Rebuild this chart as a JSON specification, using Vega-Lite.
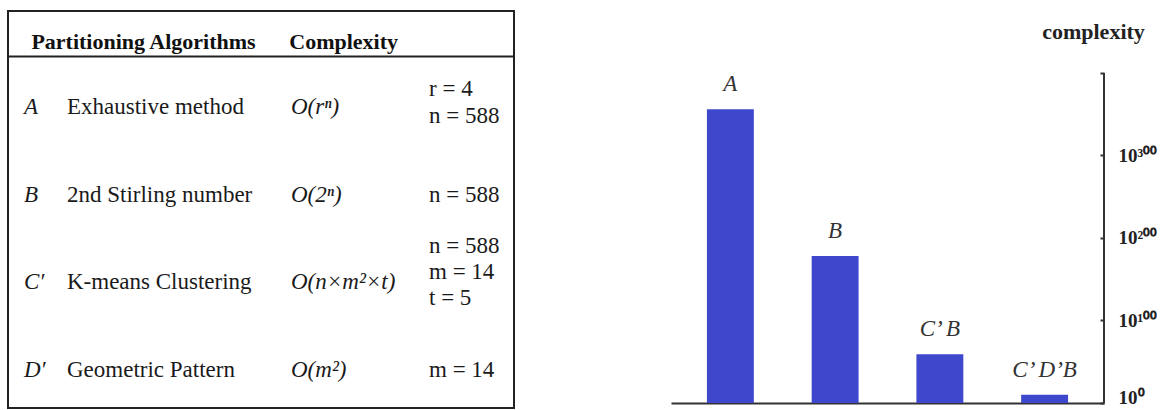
{
  "$schema": "https://vega.github.io/schema/vega-lite/v6.json",
  "padding": {"left": 7, "top": 10, "right": 0, "bottom": 0},
  "background": "white",
  "spacing": 156,
  "config": {"font": "Liberation Serif", "view": {"stroke": null}},
  "hconcat": [
    {
      "width": 506,
      "height": 397,
      "view": {"stroke": "#222", "strokeWidth": 2},
      "data": {"values": [
        {"letter": "A", "name": "Exhaustive method", "complexity": "O(rⁿ)", "params": "r = 4\nn = 588"},
        {"letter": "B", "name": "2nd Stirling number", "complexity": "O(2ⁿ)", "params": "n = 588"},
        {"letter": "C′", "name": "K-means Clustering", "complexity": "O(n×m²×t)", "params": "n = 588\nm = 14\nt = 5"},
        {"letter": "D′", "name": "Geometric Pattern", "complexity": "O(m²)", "params": "m = 14"}
      ]},
      "transform": [
        {"fold": ["letter", "name", "complexity", "params"], "as": ["col", "cell"]},
        {"window": [{"op": "row_number", "as": "ci"}], "groupby": ["letter"]}
      ],
      "encoding": {
        "x": {
          "field": "ci", "type": "quantitative",
          "scale": {"domain": [0, 1, 2, 3, 4, 5], "range": [0, 16, 59, 283, 421, 506], "zero": false, "nice": false},
          "axis": {
            "orient": "top", "offset": -45, "values": [1.16, 2.99],
            "labelExpr": "datum.value < 2 ? 'Partitioning Algorithms' : 'Complexity'",
            "ticks": false, "grid": false, "domainColor": "#222", "domainWidth": 2,
            "labelAlign": "left", "labelBaseline": "alphabetic", "labelPadding": 8, "labelLimit": 0,
            "labelFont": "Liberation Serif", "labelFontWeight": "bold", "labelFontSize": 22,
            "labelColor": "#111", "labelFlush": false, "labelOverlap": false, "title": null
          }
        },
        "y": {
          "field": "letter", "type": "nominal",
          "scale": {"type": "point", "domain": ["A", "B", "C′", "D′"], "padding": 0.764, "align": 0.716},
          "axis": null
        },
        "text": {"field": "cell"}
      },
      "layer": [
        {"transform": [{"filter": "datum.col == 'letter'"}], "mark": {"type": "text", "align": "left", "baseline": "middle", "fontStyle": "italic", "fontSize": 23, "color": "#1a1a1a"}},
        {"transform": [{"filter": "datum.col == 'name'"}], "mark": {"type": "text", "align": "left", "baseline": "middle", "fontSize": 23, "color": "#1a1a1a"}},
        {"transform": [{"filter": "datum.col == 'complexity'"}], "mark": {"type": "text", "align": "left", "baseline": "middle", "fontStyle": "italic", "fontSize": 23, "color": "#1a1a1a"}},
        {"transform": [{"filter": "datum.col == 'params' && (datum.letter == 'B' || datum.letter == 'D′')"}], "mark": {"type": "text", "align": "left", "baseline": "middle", "fontSize": 23, "color": "#1a1a1a"}},
        {"transform": [{"filter": "datum.col == 'params' && datum.letter == 'A'"}], "mark": {"type": "text", "align": "left", "baseline": "middle", "fontSize": 23, "lineBreak": "\n", "lineHeight": 27, "dy": -18, "color": "#1a1a1a"}},
        {"transform": [{"filter": "datum.col == 'params' && datum.letter == 'C′'"}], "mark": {"type": "text", "align": "left", "baseline": "middle", "fontSize": 23, "lineBreak": "\n", "lineHeight": 26, "dy": -36, "color": "#1a1a1a"}}
      ]
    },
    {
      "width": 433,
      "height": 392,
      "data": {"values": [
        {"label": "A", "v": 356},
        {"label": "B", "v": 178},
        {"label": "C’ B", "v": 59},
        {"label": "C’ D’B", "v": 10}
      ]},
      "encoding": {
        "x": {
          "field": "label", "type": "nominal", "sort": null,
          "scale": {"paddingInner": 0.552, "paddingOuter": 0.343},
          "axis": {"orient": "bottom", "labels": false, "ticks": false, "grid": false, "domainColor": "#333", "domainWidth": 2, "title": null}
        }
      },
      "layer": [
        {
          "mark": {"type": "bar", "color": "#3F48CC"},
          "encoding": {
            "y": {
              "field": "v", "type": "quantitative",
              "scale": {"domain": [0, 475], "nice": false, "zero": true},
              "axis": {
                "orient": "right", "values": [0, 100, 200, 300, 400],
                "labelExpr": "datum.value == 0 ? '10⁰' : datum.value == 100 ? '10¹⁰⁰' : datum.value == 200 ? '10²⁰⁰' : datum.value == 300 ? '10³⁰⁰' : ''",
                "domain": false, "grid": false, "tickSize": -4, "tickWidth": 2, "tickColor": "#333",
                "labelFont": "Liberation Serif", "labelFontSize": 19, "labelFontWeight": "bold", "labelColor": "#222",
                "labelBaseline": {"condition": {"test": "datum.value == 0", "value": "alphabetic"}, "value": "middle"},
                "labelPadding": 18, "labelFlush": false, "labelOverlap": false,
                "title": "complexity", "titleAngle": 0, "titleX": -11, "titleY": 27,
                "titleAlign": "center", "titleBaseline": "alphabetic",
                "titleFont": "Liberation Serif", "titleFontSize": 22, "titleFontWeight": "bold", "titleColor": "#222"
              }
            }
          }
        },
        {
          "mark": {"type": "text", "fontStyle": "italic", "fontSize": 23, "dy": -18, "baseline": "alphabetic", "color": "#333"},
          "encoding": {
            "y": {"field": "v", "type": "quantitative"},
            "text": {"field": "label"}
          }
        },
        {
          "mark": {"type": "rule", "color": "#333", "strokeWidth": 2},
          "encoding": {
            "x": {"value": "width"},
            "y": {"datum": 0},
            "y2": {"datum": 400}
          }
        }
      ]
    }
  ]
}
